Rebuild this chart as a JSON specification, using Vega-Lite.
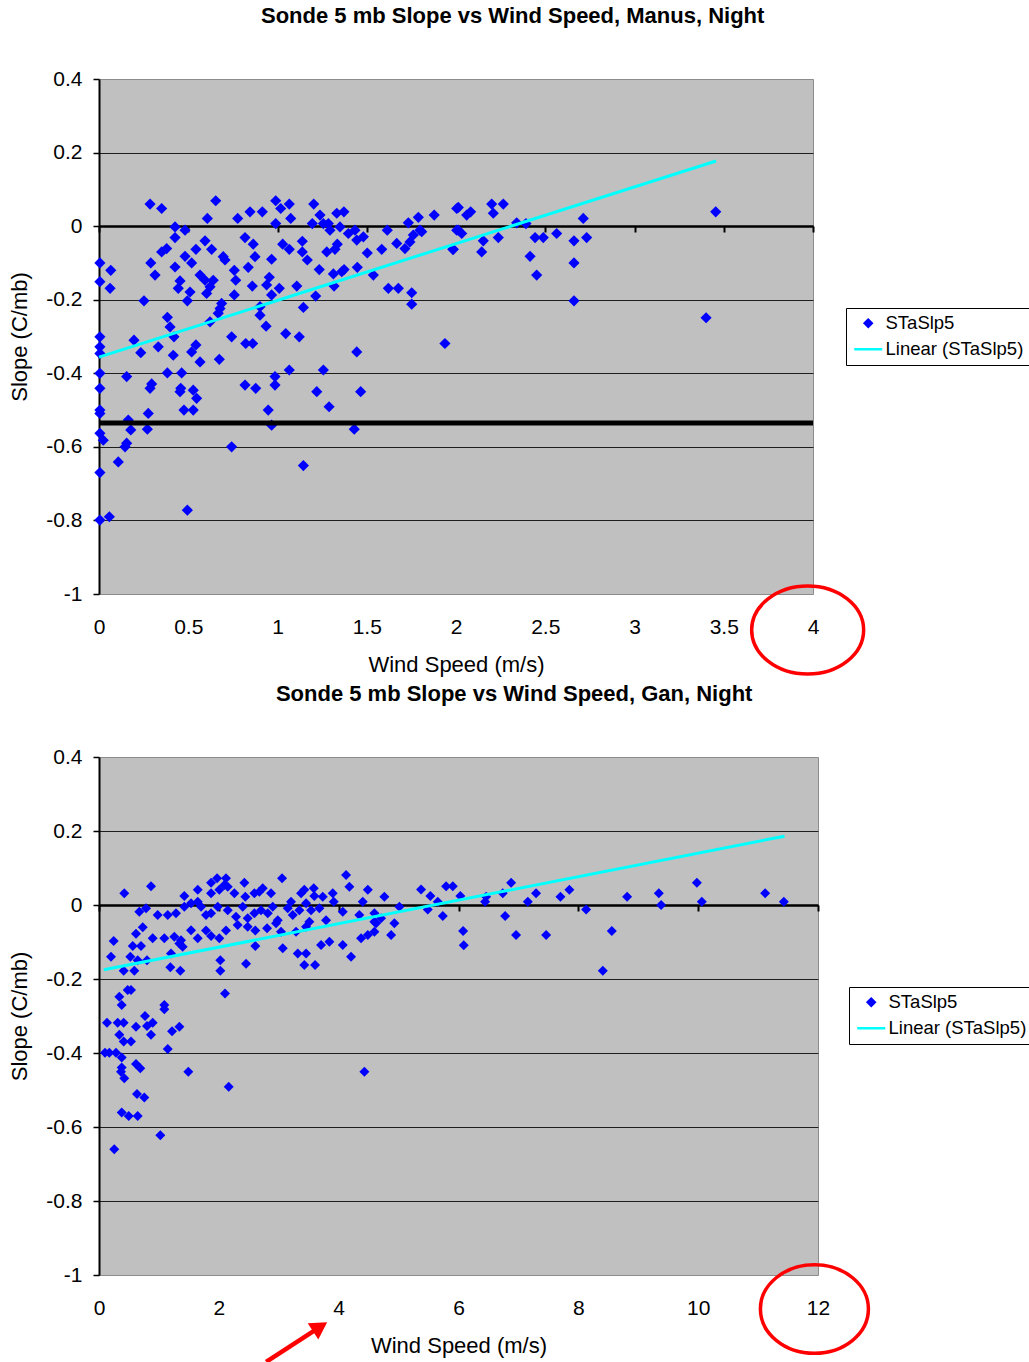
{
  "$schema": "https://vega.github.io/schema/vega-lite/v6.json",
  "background": "white",
  "padding": {"left": 8, "top": 4, "right": 0, "bottom": 0},
  "bounds": "flush",
  "spacing": 163,
  "config": {
    "font": "Liberation Sans",
    "view": {"fill": "#C0C0C0", "stroke": "#8c8c8c", "strokeWidth": 1},
    "title": {"font": "Liberation Sans", "fontSize": 22, "fontWeight": "bold", "color": "black", "anchor": "middle", "frame": "bounds", "offset": 40, "dx": -7},
    "axis": {"labelFont": "Liberation Sans", "labelFontSize": 21, "labelColor": "black", "titleFont": "Liberation Sans", "titleFontSize": 22, "titleFontWeight": "normal", "titleColor": "black", "labelFlush": false, "labelOverlap": false, "domainColor": "black", "tickColor": "black"},
    "legend": {"labelFont": "Liberation Sans", "labelFontSize": 18.5, "labelColor": "black", "symbolSize": 49, "symbolStrokeWidth": 2.5, "symbolOffset": 7, "strokeColor": "black", "fillColor": "white", "padding": 6, "rowPadding": 7, "labelOffset": 8, "labelLimit": 400}
  },
  "datasets": {
    "manus": [
      {"speed":0.286,"slope":0.060},{"speed":0.351,"slope":0.048},{"speed":0.654,"slope":0.069},{"speed":0.607,"slope":0.021},{"speed":0.777,"slope":0.021},{"speed":0.846,"slope":0.039},{"speed":0.915,"slope":0.039},{"speed":0.990,"slope":0.069},{"speed":1.018,"slope":0.048},{"speed":1.066,"slope":0.060},{"speed":1.074,"slope":0.021},{"speed":0.990,"slope":0.007},{"speed":1.203,"slope":0.060},{"speed":1.238,"slope":0.030},{"speed":1.195,"slope":0.007},{"speed":1.257,"slope":0.007},{"speed":1.285,"slope":0.007},{"speed":1.294,"slope":-0.011},{"speed":1.332,"slope":0.035},{"speed":1.372,"slope":0.039},{"speed":1.350,"slope":-0.002},{"speed":1.397,"slope":-0.020},{"speed":1.434,"slope":-0.011},{"speed":1.615,"slope":-0.011},{"speed":1.733,"slope":0.009},{"speed":1.789,"slope":0.024},{"speed":1.798,"slope":-0.011},{"speed":1.878,"slope":0.030},{"speed":2.004,"slope":0.048},{"speed":2.004,"slope":-0.011},
      {"speed":0.426,"slope":-0.002},{"speed":0.482,"slope":-0.011},{"speed":0.426,"slope":-0.031},{"speed":0.379,"slope":-0.061},{"speed":0.351,"slope":-0.070},{"speed":0.290,"slope":-0.100},{"speed":0.314,"slope":-0.133},{"speed":0.005,"slope":-0.100},{"speed":0.066,"slope":-0.120},{"speed":0.005,"slope":-0.151},{"speed":0.062,"slope":-0.169},{"speed":0.252,"slope":-0.203},{"speed":0.594,"slope":-0.040},{"speed":0.631,"slope":-0.063},{"speed":0.543,"slope":-0.063},{"speed":0.482,"slope":-0.082},{"speed":0.519,"slope":-0.100},{"speed":0.426,"slope":-0.111},{"speed":0.566,"slope":-0.133},{"speed":0.594,"slope":-0.147},{"speed":0.640,"slope":-0.147},{"speed":0.622,"slope":-0.165},{"speed":0.603,"slope":-0.183},{"speed":0.454,"slope":-0.149},{"speed":0.444,"slope":-0.169},{"speed":0.510,"slope":-0.179},{"speed":0.495,"slope":-0.203},
      {"speed":0.696,"slope":-0.083},{"speed":0.706,"slope":-0.092},{"speed":0.758,"slope":-0.120},{"speed":0.766,"slope":-0.147},{"speed":0.758,"slope":-0.187},{"speed":0.818,"slope":-0.031},{"speed":0.864,"slope":-0.049},{"speed":0.874,"slope":-0.083},{"speed":0.836,"slope":-0.112},{"speed":0.859,"slope":-0.163},{"speed":0.967,"slope":-0.090},{"speed":0.954,"slope":-0.139},{"speed":0.967,"slope":-0.187},{"speed":1.010,"slope":-0.169},{"speed":0.939,"slope":-0.160},{"speed":1.029,"slope":-0.049},{"speed":1.066,"slope":-0.063},{"speed":1.139,"slope":-0.041},{"speed":1.139,"slope":-0.070},{"speed":1.167,"slope":-0.092},{"speed":1.108,"slope":-0.163},{"speed":1.234,"slope":-0.118},{"speed":1.214,"slope":-0.190},{"speed":1.145,"slope":-0.221},{"speed":1.276,"slope":-0.070},{"speed":1.322,"slope":-0.063},{"speed":1.335,"slope":-0.049},{"speed":1.313,"slope":-0.130},{"speed":1.360,"slope":-0.124},{"speed":1.373,"slope":-0.118},{"speed":1.317,"slope":-0.163},
      {"speed":1.444,"slope":-0.038},{"speed":1.481,"slope":-0.029},{"speed":1.503,"slope":-0.073},{"speed":1.447,"slope":-0.112},{"speed":1.537,"slope":-0.133},{"speed":1.584,"slope":-0.063},{"speed":1.621,"slope":-0.169},{"speed":1.677,"slope":-0.169},{"speed":1.752,"slope":-0.181},{"speed":1.752,"slope":-0.212},{"speed":1.668,"slope":-0.047},{"speed":1.714,"slope":-0.061},{"speed":1.742,"slope":-0.043},{"speed":1.761,"slope":-0.024},{"speed":1.808,"slope":-0.015},{"speed":1.985,"slope":-0.063},{"speed":1.938,"slope":-0.319},{"speed":1.444,"slope":-0.342},
      {"speed":0.687,"slope":-0.210},{"speed":0.678,"slope":-0.224},{"speed":0.622,"slope":-0.260},{"speed":0.668,"slope":-0.237},{"speed":0.902,"slope":-0.219},{"speed":0.902,"slope":-0.242},{"speed":0.936,"slope":-0.272},{"speed":0.383,"slope":-0.248},{"speed":0.398,"slope":-0.274},{"speed":0.420,"slope":-0.301},{"speed":0.005,"slope":-0.301},{"speed":0.005,"slope":-0.328},{"speed":0.005,"slope":-0.346},{"speed":0.005,"slope":-0.400},{"speed":0.196,"slope":-0.310},{"speed":0.234,"slope":-0.344},{"speed":0.332,"slope":-0.328},{"speed":0.416,"slope":-0.351},{"speed":0.519,"slope":-0.342},{"speed":0.543,"slope":-0.323},{"speed":0.566,"slope":-0.369},{"speed":0.674,"slope":-0.362},{"speed":0.743,"slope":-0.301},{"speed":0.822,"slope":-0.319},{"speed":0.861,"slope":-0.319},{"speed":1.046,"slope":-0.292},{"speed":1.122,"slope":-0.301},{"speed":1.066,"slope":-0.391},{"speed":1.257,"slope":-0.391},{"speed":0.986,"slope":-0.409},
      {"speed":0.383,"slope":-0.399},{"speed":0.463,"slope":-0.399},{"speed":0.155,"slope":-0.409},{"speed":0.005,"slope":-0.441},{"speed":0.295,"slope":-0.429},{"speed":0.286,"slope":-0.441},{"speed":0.458,"slope":-0.441},{"speed":0.454,"slope":-0.450},{"speed":0.528,"slope":-0.446},{"speed":0.547,"slope":-0.468},{"speed":0.818,"slope":-0.432},{"speed":0.878,"slope":-0.441},{"speed":0.986,"slope":-0.432},{"speed":1.220,"slope":-0.450},{"speed":1.289,"slope":-0.491},{"speed":1.466,"slope":-0.450},{"speed":0.005,"slope":-0.500},{"speed":0.005,"slope":-0.509},{"speed":0.276,"slope":-0.509},{"speed":0.476,"slope":-0.500},{"speed":0.528,"slope":-0.500},{"speed":0.948,"slope":-0.500},{"speed":0.164,"slope":-0.527},{"speed":0.178,"slope":-0.554},{"speed":0.271,"slope":-0.552},{"speed":0.967,"slope":-0.541},{"speed":1.430,"slope":-0.552},{"speed":0.005,"slope":-0.563},{"speed":0.024,"slope":-0.582},{"speed":0.155,"slope":-0.590},{"speed":0.146,"slope":-0.600},{"speed":0.743,"slope":-0.600},{"speed":0.108,"slope":-0.641},{"speed":0.005,"slope":-0.670},{"speed":1.145,"slope":-0.651},{"speed":0.495,"slope":-0.772},{"speed":0.005,"slope":-0.799},{"speed":0.058,"slope":-0.790},
      {"speed":2.013,"slope":0.051},{"speed":2.060,"slope":0.030},{"speed":2.082,"slope":0.039},{"speed":2.200,"slope":0.060},{"speed":2.209,"slope":0.035},{"speed":2.265,"slope":0.060},{"speed":2.013,"slope":-0.011},{"speed":2.032,"slope":-0.020},{"speed":1.982,"slope":-0.063},{"speed":2.144,"slope":-0.070},{"speed":2.153,"slope":-0.040},{"speed":2.237,"slope":-0.031},{"speed":2.340,"slope":0.009},{"speed":2.392,"slope":0.007},{"speed":2.443,"slope":-0.031},{"speed":2.489,"slope":-0.031},{"speed":2.564,"slope":-0.020},{"speed":2.415,"slope":-0.082},{"speed":2.452,"slope":-0.133},{"speed":2.661,"slope":-0.040},{"speed":2.732,"slope":-0.031},{"speed":2.713,"slope":0.021},{"speed":2.661,"slope":-0.100},{"speed":2.661,"slope":-0.203},{"speed":3.455,"slope":0.039},{"speed":3.401,"slope":-0.249}
    ],
    "gan": [
      {"speed":0.422,"slope":0.032},{"speed":0.868,"slope":0.051},{"speed":1.424,"slope":0.024},{"speed":1.648,"slope":0.041},{"speed":1.870,"slope":0.060},{"speed":1.970,"slope":0.072},{"speed":2.120,"slope":0.072},{"speed":1.870,"slope":0.032},{"speed":2.008,"slope":0.041},{"speed":2.149,"slope":0.049},{"speed":2.259,"slope":0.032},{"speed":2.092,"slope":0.054},{"speed":2.426,"slope":0.060},{"speed":2.442,"slope":0.022},{"speed":2.593,"slope":0.032},{"speed":2.733,"slope":0.045},{"speed":2.871,"slope":0.032},{"speed":2.676,"slope":0.036},{"speed":3.055,"slope":0.072},{"speed":3.205,"slope":0.009},{"speed":3.372,"slope":0.032},{"speed":3.427,"slope":0.041},{"speed":3.584,"slope":0.045},{"speed":3.594,"slope":0.024},{"speed":3.734,"slope":0.022},{"speed":3.901,"slope":0.032},{"speed":3.918,"slope":0.009},{"speed":4.123,"slope":0.081},{"speed":4.179,"slope":0.049},{"speed":4.486,"slope":0.041},{"speed":4.402,"slope":0.009},{"speed":4.763,"slope":0.022},{"speed":5.013,"slope":-0.005},{"speed":5.375,"slope":0.042},
      {"speed":0.673,"slope":-0.018},{"speed":0.785,"slope":-0.009},{"speed":0.980,"slope":-0.027},{"speed":1.147,"slope":-0.027},{"speed":1.285,"slope":-0.022},{"speed":1.424,"slope":-0.005},{"speed":1.536,"slope":0.005},{"speed":1.648,"slope":0.009},{"speed":1.703,"slope":-0.005},{"speed":1.786,"slope":-0.027},{"speed":1.870,"slope":-0.022},{"speed":1.982,"slope":-0.005},{"speed":2.149,"slope":-0.014},{"speed":2.287,"slope":-0.032},{"speed":2.399,"slope":-0.005},{"speed":2.482,"slope":-0.036},{"speed":2.593,"slope":-0.022},{"speed":2.704,"slope":-0.014},{"speed":2.816,"slope":-0.022},{"speed":2.900,"slope":-0.005},{"speed":2.983,"slope":-0.041},{"speed":3.150,"slope":-0.009},{"speed":3.234,"slope":-0.027},{"speed":3.344,"slope":-0.014},{"speed":3.456,"slope":0.005},{"speed":3.539,"slope":-0.014},{"speed":3.678,"slope":-0.009},{"speed":3.790,"slope":-0.041},{"speed":4.068,"slope":-0.018},{"speed":4.345,"slope":-0.027},{"speed":4.596,"slope":-0.022},{"speed":4.708,"slope":-0.036},{"speed":4.930,"slope":-0.049},{"speed":4.596,"slope":-0.045},
      {"speed":0.245,"slope":-0.097},{"speed":0.618,"slope":-0.078},{"speed":0.730,"slope":-0.060},{"speed":0.896,"slope":-0.090},{"speed":1.090,"slope":-0.090},{"speed":1.257,"slope":-0.086},{"speed":1.369,"slope":-0.095},{"speed":1.536,"slope":-0.068},{"speed":1.648,"slope":-0.090},{"speed":1.786,"slope":-0.069},{"speed":1.870,"slope":-0.084},{"speed":2.008,"slope":-0.090},{"speed":2.120,"slope":-0.069},{"speed":2.315,"slope":-0.054},{"speed":2.482,"slope":-0.059},{"speed":2.609,"slope":-0.069},{"speed":2.805,"slope":-0.063},{"speed":2.955,"slope":-0.049},{"speed":3.038,"slope":-0.072},{"speed":3.289,"slope":-0.072},{"speed":3.456,"slope":-0.059},{"speed":3.511,"slope":-0.045},{"speed":3.706,"slope":-0.108},{"speed":3.845,"slope":-0.099},{"speed":4.068,"slope":-0.108},{"speed":4.374,"slope":-0.090},{"speed":4.486,"slope":-0.081},{"speed":4.596,"slope":-0.072},{"speed":4.624,"slope":-0.049},{"speed":4.875,"slope":-0.081},
      {"speed":0.200,"slope":-0.140},{"speed":0.563,"slope":-0.111},{"speed":0.701,"slope":-0.111},{"speed":0.523,"slope":-0.140},{"speed":0.646,"slope":-0.149},{"speed":0.801,"slope":-0.149},{"speed":1.202,"slope":-0.131},{"speed":1.341,"slope":-0.104},{"speed":1.397,"slope":-0.113},{"speed":1.190,"slope":-0.168},{"speed":1.357,"slope":-0.178},{"speed":2.025,"slope":-0.149},{"speed":2.025,"slope":-0.178},{"speed":2.454,"slope":-0.159},{"speed":2.609,"slope":-0.111},{"speed":3.067,"slope":-0.117},{"speed":3.317,"slope":-0.131},{"speed":3.456,"slope":-0.131},{"speed":3.427,"slope":-0.162},{"speed":3.606,"slope":-0.162},{"speed":4.207,"slope":-0.140},{"speed":0.412,"slope":-0.178},{"speed":0.589,"slope":-0.178},
      {"speed":0.479,"slope":-0.230},{"speed":0.534,"slope":-0.230},{"speed":0.339,"slope":-0.248},{"speed":0.379,"slope":-0.270},{"speed":2.103,"slope":-0.239},{"speed":1.090,"slope":-0.270},{"speed":1.090,"slope":-0.282},{"speed":0.768,"slope":-0.300},{"speed":0.896,"slope":-0.318},{"speed":0.801,"slope":-0.327},{"speed":0.618,"slope":-0.329},{"speed":0.868,"slope":-0.351},{"speed":0.134,"slope":-0.318},{"speed":0.312,"slope":-0.318},{"speed":0.412,"slope":-0.318},{"speed":0.339,"slope":-0.351},{"speed":0.412,"slope":-0.369},{"speed":0.534,"slope":-0.369},{"speed":1.219,"slope":-0.341},{"speed":1.341,"slope":-0.329},{"speed":1.147,"slope":-0.389},{"speed":0.100,"slope":-0.399},{"speed":0.172,"slope":-0.399},{"speed":0.284,"slope":-0.399},{"speed":0.379,"slope":-0.412},{"speed":0.379,"slope":-0.439},{"speed":0.367,"slope":-0.451},{"speed":0.422,"slope":-0.468},{"speed":0.618,"slope":-0.430},{"speed":0.689,"slope":-0.441},{"speed":1.491,"slope":-0.451},{"speed":4.429,"slope":-0.451},{"speed":2.165,"slope":-0.491},{"speed":0.634,"slope":-0.511},{"speed":0.756,"slope":-0.520},{"speed":0.379,"slope":-0.561},{"speed":0.496,"slope":-0.570},{"speed":0.646,"slope":-0.570},{"speed":1.023,"slope":-0.622},{"speed":0.255,"slope":-0.660},
      {"speed":5.531,"slope":0.024},{"speed":5.654,"slope":0.009},{"speed":5.487,"slope":-0.012},{"speed":5.793,"slope":0.051},{"speed":5.905,"slope":0.051},{"speed":5.738,"slope":-0.030},{"speed":6.031,"slope":0.024},{"speed":6.077,"slope":-0.070},{"speed":6.088,"slope":-0.109},{"speed":6.444,"slope":0.009},{"speed":6.461,"slope":0.022},{"speed":6.739,"slope":0.032},{"speed":6.878,"slope":0.060},{"speed":6.778,"slope":-0.030},{"speed":6.961,"slope":-0.081},{"speed":7.157,"slope":0.009},{"speed":7.295,"slope":0.032},{"speed":7.462,"slope":-0.081},{"speed":7.701,"slope":0.022},{"speed":7.851,"slope":0.041},{"speed":8.130,"slope":-0.012},{"speed":8.559,"slope":-0.070},{"speed":8.409,"slope":-0.178},{"speed":8.814,"slope":0.022},{"speed":9.343,"slope":0.032},{"speed":9.382,"slope":0.000},{"speed":9.978,"slope":0.060},{"speed":10.061,"slope":0.009},{"speed":11.118,"slope":0.032},{"speed":11.430,"slope":0.009}
    ],
    "manusFit": [{"speed": 0, "slope": -0.356}, {"speed": 3.457, "slope": 0.177}],
    "ganFit": [{"speed": 0.08, "slope": -0.175}, {"speed": 11.44, "slope": 0.186}],
    "manusLimit": [{"slope": -0.535}],
    "manusNote": [{"speed": 3.97, "slope": -1.098}],
    "ganNote": [{"speed": 11.94, "slope": -1.092}],
    "ganArrow": [{"speed": 2.79, "slope": -1.235, "speed2": 3.69, "slope2": -1.14}],
    "ganArrowHead": [{"speed": 3.69, "slope": -1.14}]
  },
  "vconcat": [
    {
      "title": "Sonde 5 mb Slope vs Wind Speed, Manus, Night",
      "width": 714,
      "height": 515,
      "layer": [
        {
          "data": {"name": "manus"},
          "mark": {"type": "point", "filled": true, "size": 125, "opacity": 1},
          "encoding": {
            "x": {"field": "speed", "type": "quantitative", "scale": {"domain": [0, 4], "nice": false, "zero": false},
                  "axis": {"values": [0, 0.5, 1, 1.5, 2, 2.5, 3, 3.5, 4], "labelExpr": "'' + datum.value", "title": "Wind Speed (m/s)", "grid": false, "offset": -368, "domainWidth": 2.5, "tickWidth": 2, "tickSize": 6, "labelPadding": 384, "titleY": 428}},
            "y": {"field": "slope", "type": "quantitative", "scale": {"domain": [-1, 0.4], "nice": false, "zero": false},
                  "axis": {"values": [-1, -0.8, -0.6, -0.4, -0.2, 0, 0.2, 0.4], "labelExpr": "'' + datum.value", "title": "Slope (C/mb)", "grid": true, "gridColor": {"condition": {"test": "datum.value == 0.4 || datum.value == -1", "value": "transparent"}, "value": "#1e1e1e"}, "gridWidth": 1, "domainWidth": 2, "tickWidth": 1.5, "tickSize": 6, "labelPadding": 11, "titlePadding": 14}},
            "color": {"datum": "STaSlp5", "type": "nominal", "scale": {"domain": ["STaSlp5", "Linear (STaSlp5)"], "range": ["#0000FF", "#00FFFF"]},
                      "legend": {"title": null, "orient": "none", "legendX": 747, "legendY": 229}},
            "shape": {"datum": "STaSlp5", "type": "nominal", "scale": {"domain": ["STaSlp5", "Linear (STaSlp5)"], "range": ["diamond", "M-4,0H4"]},
                      "legend": {"title": null, "orient": "none", "legendX": 747, "legendY": 229}}
          }
        },
        {
          "data": {"name": "manusLimit"},
          "mark": {"type": "rule", "color": "black", "strokeWidth": 5},
          "encoding": {"y": {"field": "slope", "type": "quantitative"}}
        },
        {
          "data": {"name": "manusFit"},
          "mark": {"type": "line", "strokeWidth": 3},
          "encoding": {
            "x": {"field": "speed", "type": "quantitative"},
            "y": {"field": "slope", "type": "quantitative"},
            "color": {"datum": "Linear (STaSlp5)", "type": "nominal", "legend": {"title": null, "orient": "none", "legendX": 747, "legendY": 229}}
          }
        },
        {
          "data": {"name": "manusNote"},
          "mark": {"type": "point", "shape": "M-1,0A1,0.786,0,1,0,1,0A1,0.786,0,1,0,-1,0Z", "size": 12544, "filled": false, "stroke": "#FF0000", "strokeWidth": 3.5, "opacity": 1},
          "encoding": {
            "x": {"field": "speed", "type": "quantitative"},
            "y": {"field": "slope", "type": "quantitative"}
          }
        }
      ]
    },
    {
      "title": "Sonde 5 mb Slope vs Wind Speed, Gan, Night",
      "width": 719,
      "height": 518,
      "layer": [
        {
          "data": {"name": "gan"},
          "mark": {"type": "point", "filled": true, "size": 100, "opacity": 1},
          "encoding": {
            "x": {"field": "speed", "type": "quantitative", "scale": {"domain": [0, 12], "nice": false, "zero": false},
                  "axis": {"values": [0, 2, 4, 6, 8, 10, 12], "labelExpr": "'' + datum.value", "title": "Wind Speed (m/s)", "grid": false, "offset": -370, "domainWidth": 2.5, "tickWidth": 2, "tickSize": 6, "labelPadding": 386, "titleY": 430}},
            "y": {"field": "slope", "type": "quantitative", "scale": {"domain": [-1, 0.4], "nice": false, "zero": false},
                  "axis": {"values": [-1, -0.8, -0.6, -0.4, -0.2, 0, 0.2, 0.4], "labelExpr": "'' + datum.value", "title": "Slope (C/mb)", "grid": true, "gridColor": {"condition": {"test": "datum.value == 0.4 || datum.value == -1", "value": "transparent"}, "value": "#1e1e1e"}, "gridWidth": 1, "domainWidth": 2, "tickWidth": 1.5, "tickSize": 6, "labelPadding": 11, "titlePadding": 14}},
            "color": {"datum": "STaSlp5", "type": "nominal", "scale": {"domain": ["STaSlp5", "Linear (STaSlp5)"], "range": ["#0000FF", "#00FFFF"]},
                      "legend": {"title": null, "orient": "none", "legendX": 750, "legendY": 230}},
            "shape": {"datum": "STaSlp5", "type": "nominal", "scale": {"domain": ["STaSlp5", "Linear (STaSlp5)"], "range": ["diamond", "M-4,0H4"]},
                      "legend": {"title": null, "orient": "none", "legendX": 750, "legendY": 230}}
          }
        },
        {
          "data": {"name": "ganFit"},
          "mark": {"type": "line", "strokeWidth": 3},
          "encoding": {
            "x": {"field": "speed", "type": "quantitative"},
            "y": {"field": "slope", "type": "quantitative"},
            "color": {"datum": "Linear (STaSlp5)", "type": "nominal", "legend": {"title": null, "orient": "none", "legendX": 750, "legendY": 230}}
          }
        },
        {
          "data": {"name": "ganNote"},
          "mark": {"type": "point", "shape": "M-1,0A1,0.82,0,1,0,1,0A1,0.82,0,1,0,-1,0Z", "size": 11664, "filled": false, "stroke": "#FF0000", "strokeWidth": 3.5, "opacity": 1},
          "encoding": {
            "x": {"field": "speed", "type": "quantitative"},
            "y": {"field": "slope", "type": "quantitative"}
          }
        },
        {
          "data": {"name": "ganArrow"},
          "mark": {"type": "rule", "color": "#FF0000", "strokeWidth": 4.5},
          "encoding": {
            "x": {"field": "speed", "type": "quantitative"},
            "y": {"field": "slope", "type": "quantitative"},
            "x2": {"field": "speed2"},
            "y2": {"field": "slope2"}
          }
        },
        {
          "data": {"name": "ganArrowHead"},
          "mark": {"type": "point", "shape": "triangle-up", "angle": 57, "size": 380, "filled": true, "color": "#FF0000", "opacity": 1},
          "encoding": {
            "x": {"field": "speed", "type": "quantitative"},
            "y": {"field": "slope", "type": "quantitative"}
          }
        }
      ]
    }
  ],
  "resolve": {"scale": {"x": "independent", "y": "independent", "color": "independent", "shape": "independent"}}
}
